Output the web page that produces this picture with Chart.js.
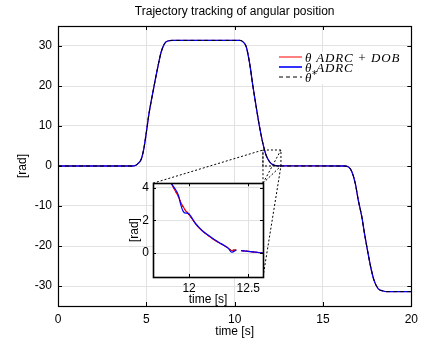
<!DOCTYPE html>
<html>
<head>
<meta charset="utf-8">
<script src="https://cdn.jsdelivr.net/npm/chart.js@4"></script>
<style>
  html, body { margin: 0; padding: 0; background: #fff; }
  #wrap { position: relative; width: 424px; height: 340px; }
  #mainChart { position: absolute; left: 0; top: 0; }
  #insetChart { position: absolute; left: 120px; top: 172px; }
</style>
</head>
<body>
<div id="wrap">
  <canvas id="mainChart" width="424" height="340"></canvas>
  <canvas id="insetChart" width="150" height="140"></canvas>
</div>
<script>
// main plot data
const time = [0, 4.25, 4.53, 4.72, 4.87, 5.0, 5.15, 5.32, 5.5, 5.69, 5.84, 6.03, 6.21, 6.5,
  10.3, 10.48, 10.66, 10.85, 11.04, 11.22, 11.41, 11.6, 11.78, 11.95, 12.1, 12.44,
  16.17, 16.45, 16.64, 16.83, 17.0, 17.2, 17.35, 17.52, 17.7, 17.89, 18.13, 18.41, 18.6, 20];
const thetaRef = [0, 0, 0.6, 1.8, 4.6, 8.4, 13.1, 17.25, 21.4, 25.6, 28.5, 30.6, 31.25, 31.4,
  31.4, 31.0, 29.75, 25.6, 19.75, 14.75, 9.75, 5.6, 2.7, 1.2, 0.5, 0,
  0, -0.25, -1.5, -4.4, -8.6, -12.75, -16.9, -21.1, -25.25, -28.6, -30.7, -31.25, -31.4, -31.4];
const thetaAdrc = [0, 0, 0.6, 1.8, 4.6, 8.4, 13.1, 17.25, 21.4, 25.6, 28.5, 30.6, 31.25, 31.4,
  31.4, 31.0, 29.75, 25.6, 19.75, 14.75, 9.75, 5.6, 2.7, 1.25, 0.5, 0.05,
  0, -0.25, -1.5, -4.4, -8.6, -12.75, -16.9, -21.1, -25.25, -28.6, -30.7, -31.25, -31.4, -31.4];
const thetaDob = [0, 0, 0.6, 1.8, 4.6, 8.4, 13.1, 17.25, 21.4, 25.6, 28.5, 30.6, 31.25, 31.4,
  31.4, 31.0, 29.75, 25.6, 19.75, 14.75, 9.75, 5.6, 2.7, 1.2, 0.5, 0.05,
  0, -0.25, -1.5, -4.4, -8.6, -12.75, -16.9, -21.1, -25.25, -28.6, -30.7, -31.25, -31.4, -31.4];

// zoomed detail (inset)
const insetTime = [11.82, 11.85, 11.88, 11.91, 11.93, 11.95, 11.97, 11.99, 12.02, 12.05, 12.08,
  12.12, 12.16, 12.21, 12.26, 12.3, 12.33, 12.36, 12.38, 12.40, 12.42, 12.44, 12.5, 12.56, 12.625];
const insetDob = [4.6, 4.26, 3.85, 3.45, 3.1, 2.85, 2.6, 2.45, 2.15, 1.85, 1.57,
  1.3, 1.08, 0.82, 0.6, 0.45, 0.3, 0.15, 0.18, 0.2, null, 0.15, 0.1, 0.05, 0.0];
const insetAdrc = [4.6, 4.26, 3.95, 3.55, 2.95, 2.55, 2.45, 2.45, 2.2, 1.85, 1.6,
  1.32, 1.1, 0.85, 0.62, 0.45, 0.3, 0.05, 0.1, 0.18, null, 0.15, 0.1, 0.05, 0.0];
const insetRef = [4.6, 4.26, 3.85, 3.45, 3.1, 2.8, 2.6, 2.4, 2.15, 1.85, 1.57,
  1.3, 1.08, 0.82, 0.6, 0.45, 0.3, 0.18, 0.18, 0.18, null, 0.15, 0.1, 0.05, 0.0];

const seriesLabels = ['θ ADRC + DOB', 'θ ADRC', 'θ*'];
const seriesColors = ['#ff0000', '#0000ff', '#000000'];

const xTicks = [0, 5, 10, 15, 20];
const yTicks = [-30, -20, -10, 0, 10, 20, 30];
const insetXTicks = [12, 12.5];
const insetYTicks = [0, 2, 4];
const zoomT = [11.6, 12.62];   // zoom window drawn on the main plot
const zoomV = [0, 4];
const titleText = 'Trajectory tracking of angular position';

const FONT = '"Liberation Sans", Arial, sans-serif';

function pts(xs, ys) {
  return xs.map((x, i) => ({ x: x, y: ys[i] }));
}

function setTicks(vals) {
  return s => { s.ticks = vals.map(v => ({ value: v })); };
}

// white plot area
const areaFill = {
  id: 'areaFill',
  beforeDraw(chart) {
    const { ctx, chartArea: a } = chart;
    ctx.save();
    ctx.fillStyle = '#fff';
    ctx.fillRect(a.left, a.top, a.right - a.left, a.bottom - a.top);
    ctx.restore();
  }
};

// title centred over the axes, not over the canvas
const axesTitle = {
  id: 'axesTitle',
  afterDraw(chart, args, opts) {
    const { ctx, chartArea: a } = chart;
    ctx.save();
    ctx.fillStyle = '#000';
    ctx.font = '12px ' + FONT;
    ctx.textAlign = 'center';
    ctx.textBaseline = 'middle';
    ctx.fillText(opts.text, (a.left + a.right) / 2, opts.y);
    ctx.restore();
  }
};

// black box with inward tick marks (matlab style)
const axesBox = {
  id: 'axesBox',
  afterDraw(chart, args, opts) {
    const { ctx, chartArea: a, scales } = chart;
    const len = opts.tickLen || 4;
    ctx.save();
    ctx.strokeStyle = '#000';
    ctx.lineWidth = 1;
    ctx.beginPath();
    scales.x.ticks.forEach(t => {
      const px = Math.round(scales.x.getPixelForValue(t.value)) + 0.5;
      ctx.moveTo(px, a.bottom); ctx.lineTo(px, a.bottom - len);
      ctx.moveTo(px, a.top); ctx.lineTo(px, a.top + len);
    });
    scales.y.ticks.forEach(t => {
      const py = Math.round(scales.y.getPixelForValue(t.value)) + 0.5;
      ctx.moveTo(a.left, py); ctx.lineTo(a.left + len, py);
      ctx.moveTo(a.right, py); ctx.lineTo(a.right - len, py);
    });
    ctx.stroke();
    ctx.lineWidth = opts.boxWidth || 1.2;
    ctx.strokeRect(Math.round(a.left) + 0.5, Math.round(a.top) + 0.5,
      Math.round(a.right - a.left), Math.round(a.bottom - a.top));
    ctx.restore();
  }
};

let insetChart = null;

// dashed zoom window and connectors to the inset
const zoomLines = {
  id: 'zoomLines',
  afterDraw(chart) {
    if (!insetChart) return;
    const { ctx, scales } = chart;
    const l = scales.x.getPixelForValue(zoomT[0]);
    const r = scales.x.getPixelForValue(zoomT[1]);
    const t = scales.y.getPixelForValue(zoomV[1]);
    const b = scales.y.getPixelForValue(zoomV[0]);
    const cv = insetChart.canvas;
    const ia = insetChart.chartArea;
    const il = cv.offsetLeft + ia.left, ir = cv.offsetLeft + ia.right;
    const it = cv.offsetTop + ia.top, ib = cv.offsetTop + ia.bottom;
    ctx.save();
    ctx.strokeStyle = '#000';
    ctx.lineWidth = 1;
    ctx.setLineDash([2, 2]);
    ctx.strokeRect(l, t, r - l, b - t);
    ctx.beginPath();
    ctx.moveTo(il, it); ctx.lineTo(l, t);
    ctx.moveTo(ir, it); ctx.lineTo(l, t);
    ctx.moveTo(ir, it); ctx.lineTo(r, t);
    ctx.moveTo(ir, it); ctx.lineTo(r, b);
    ctx.moveTo(ir, ib); ctx.lineTo(r, b);
    ctx.stroke();
    ctx.restore();
  }
};

// legend in the upper right, no frame
const mathLegend = {
  id: 'mathLegend',
  afterDraw(chart, args, opts) {
    const { ctx } = chart;
    const x0 = opts.x, y0 = opts.y, row = opts.row;
    ctx.save();
    ctx.fillStyle = '#fff';
    ctx.fillRect(x0 - 4, y0 - 5, 135, row * 3 + 2);
    seriesLabels.forEach((lab, i) => {
      const y = y0 + i * row;
      ctx.strokeStyle = seriesColors[i];
      ctx.lineWidth = i === 1 ? 1.6 : 1;
      ctx.setLineDash(i === 2 ? [4, 3] : []);
      ctx.beginPath();
      ctx.moveTo(x0, y); ctx.lineTo(x0 + 23, y);
      ctx.stroke();
      ctx.fillStyle = '#000';
      ctx.font = 'italic 13px "Liberation Serif", "DejaVu Serif", serif';
      ctx.textBaseline = 'alphabetic';
      let tx = x0 + 26;
      if (lab.endsWith('*')) {
        const base = lab.slice(0, -1);
        ctx.fillText(base, tx, y + 4.5);
        tx += ctx.measureText(base).width + 0.5;
        ctx.font = '10px "DejaVu Sans", sans-serif';
        ctx.fillText('*', tx, y + 1);
      } else {
        ctx.letterSpacing = '0.8px';
        ctx.fillText(lab, tx, y + 4.5);
        ctx.letterSpacing = '0px';
      }
    });
    ctx.restore();
  }
};

const gridColor = '#e2e2e2';

function lineSet(label, data, color, width, dash, order) {
  return {
    label: label,
    data: data,
    borderColor: color,
    borderWidth: width,
    borderDash: dash,
    pointRadius: 0,
    fill: false,
    cubicInterpolationMode: 'monotone',
    spanGaps: false,
    order: order
  };
}

// inset chart first, so the main chart can reach its box
insetChart = new Chart(document.getElementById('insetChart'), {
  type: 'line',
  data: {
    datasets: [
      lineSet(seriesLabels[2], pts(insetTime, insetRef), seriesColors[2], 1, [3, 2], 2),
      lineSet(seriesLabels[0], pts(insetTime, insetDob), seriesColors[0], 1.2, [], 1),
      lineSet(seriesLabels[1], pts(insetTime, insetAdrc), seriesColors[1], 1.2, [], 0)
    ]
  },
  options: {
    responsive: false,
    devicePixelRatio: 1,
    animation: false,
    layout: { padding: { left: 0, right: 7, top: 7, bottom: 0 } },
    plugins: {
      legend: { display: false },
      tooltip: { enabled: false },
      axesBox: { tickLen: 3, boxWidth: 1.6 }
    },
    scales: {
      x: {
        type: 'linear',
        min: 11.695,
        max: 12.625,
        afterBuildTicks: setTicks(insetXTicks),
        afterFit: s => { s.height = 35; },
        grid: { color: gridColor, drawTicks: false },
        border: { display: false },
        ticks: { color: '#000', padding: 4, font: { family: FONT, size: 12 }, callback: v => String(v) },
        title: { display: true, text: 'time [s]', color: '#000', padding: { top: 0, bottom: 5 }, font: { family: FONT, size: 12 } }
      },
      y: {
        type: 'linear',
        min: -1.47,
        max: 4.28,
        afterBuildTicks: setTicks(insetYTicks),
        afterFit: s => { s.width = 33; },
        grid: { color: gridColor, drawTicks: false },
        border: { display: false },
        ticks: { color: '#000', padding: 4, font: { family: FONT, size: 12 }, callback: v => String(v) },
        title: { display: true, text: '[rad]', color: '#000', padding: { top: 7, bottom: 0 }, font: { family: FONT, size: 12 } }
      }
    }
  },
  plugins: [areaFill, axesBox]
});

new Chart(document.getElementById('mainChart'), {
  type: 'line',
  data: {
    datasets: [
      lineSet(seriesLabels[0], pts(time, thetaDob), seriesColors[0], 1, [], 2),
      lineSet(seriesLabels[1], pts(time, thetaAdrc), seriesColors[1], 1.3, [], 1),
      lineSet(seriesLabels[2], pts(time, thetaRef), seriesColors[2], 1, [4, 3], 0)
    ]
  },
  options: {
    responsive: false,
    devicePixelRatio: 1,
    animation: false,
    layout: { padding: { left: 0, right: 9, top: 26, bottom: 0 } },
    plugins: {
      legend: { display: false },
      tooltip: { enabled: false },
      title: { display: false },
      axesTitle: { text: titleText, y: 12 },
      axesBox: { tickLen: 4, boxWidth: 1.2 },
      mathLegend: { x: 279, y: 57, row: 10 }
    },
    scales: {
      x: {
        type: 'linear',
        min: 0,
        max: 20,
        afterBuildTicks: setTicks(xTicks),
        afterFit: s => { s.height = 34; },
        grid: { color: gridColor, drawTicks: false },
        border: { display: false },
        ticks: { color: '#000', padding: 6, font: { family: FONT, size: 12 } },
        title: { display: true, text: 'time [s]', color: '#000', padding: { top: 0, bottom: 1 }, font: { family: FONT, size: 12 } }
      },
      y: {
        type: 'linear',
        min: -35,
        max: 35,
        afterBuildTicks: setTicks(yTicks),
        afterFit: s => { s.width = 58; },
        grid: { color: gridColor, drawTicks: false },
        border: { display: false },
        ticks: { color: '#000', padding: 6, font: { family: FONT, size: 12 } },
        title: { display: true, text: '[rad]', color: '#000', padding: { top: 15, bottom: 0 }, font: { family: FONT, size: 12 } }
      }
    }
  },
  plugins: [areaFill, axesTitle, axesBox, zoomLines, mathLegend]
});
</script>
</body>
</html>
